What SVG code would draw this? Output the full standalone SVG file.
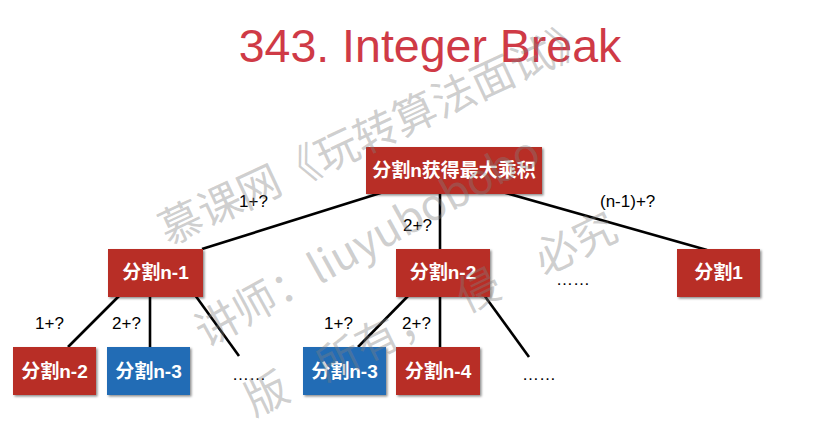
<svg xmlns="http://www.w3.org/2000/svg" width="816" height="421" viewBox="0 0 816 421">
<defs>
<filter id="sh" x="-10%" y="-10%" width="130%" height="140%">
<feDropShadow dx="1.5" dy="1.5" stdDeviation="0.8" flood-color="#000" flood-opacity="0.45"/>
</filter>
</defs>
<style>
.red{fill:#B82E27;filter:url(#sh)}
.blue{fill:#236CB5;filter:url(#sh)}
.nl{font-family:"Liberation Sans","Noto Sans CJK SC",sans-serif;font-weight:bold;font-size:19px;fill:#fff;text-anchor:middle}
.el{font-family:"Liberation Sans",Arial,sans-serif;font-size:17px;fill:#000}
.edge{stroke:#000;stroke-width:2.6;fill:none}
.wm{font-family:"Noto Sans CJK SC",sans-serif;font-size:43px;fill:#808080;fill-opacity:0.38}
</style>
<rect width="816" height="421" fill="#fff"/>
<text x="430" y="62" font-family="Liberation Sans,Arial,sans-serif" font-size="46.5" fill="#CF3A46" text-anchor="middle">343. Integer Break</text>
<g id="connectors">
<line class="edge" x1="390" y1="190" x2="202" y2="249"/>
<line class="edge" x1="440" y1="190" x2="440" y2="249"/>
<line class="edge" x1="495" y1="190" x2="707" y2="250"/>
<line class="edge" x1="120" y1="295" x2="68" y2="347"/>
<line class="edge" x1="150" y1="295" x2="150" y2="347"/>
<line class="edge" x1="195" y1="295" x2="239" y2="356"/>
<line class="edge" x1="409" y1="295" x2="358" y2="347"/>
<line class="edge" x1="440" y1="295" x2="440" y2="347"/>
<line class="edge" x1="484" y1="295" x2="529" y2="357"/>
</g>
<g id="root"><rect class="red" x="366" y="147" width="176" height="47"/><text class="nl" x="454" y="177">分割n获得最大乘积</text></g>
<g id="n1"><rect class="red" x="108" y="249" width="95" height="48"/><text class="nl" x="155.5" y="279">分割n-1</text></g>
<g id="n2"><rect class="red" x="396" y="249" width="94" height="48"/><text class="nl" x="443" y="279">分割n-2</text></g>
<g id="s1"><rect class="red" x="677" y="249" width="83" height="48"/><text class="nl" x="718.5" y="279">分割1</text></g>
<g id="a1"><rect class="red" x="13" y="347" width="83" height="48"/><text class="nl" x="54.5" y="378">分割n-2</text></g>
<g id="a2"><rect class="blue" x="107" y="347" width="83" height="48"/><text class="nl" x="148.5" y="378">分割n-3</text></g>
<g id="b1"><rect class="blue" x="303" y="347" width="83" height="48"/><text class="nl" x="344.5" y="378">分割n-3</text></g>
<g id="b2"><rect class="red" x="396" y="347" width="84" height="48"/><text class="nl" x="438" y="378">分割n-4</text></g>
<g id="labels">
<text class="el" x="239" y="207">1+?</text>
<text class="el" x="403" y="231">2+?</text>
<text class="el" x="600" y="207">(n-1)+?</text>
<text class="el" x="35" y="329">1+?</text>
<text class="el" x="112" y="329">2+?</text>
<text class="el" x="324" y="329">1+?</text>
<text class="el" x="402" y="329">2+?</text>
<text class="el" x="556" y="285">……</text>
<text class="el" x="232" y="380">……</text>
<text class="el" x="522" y="380">……</text>
</g>
<g id="watermark">
<text class="wm" transform="translate(168,246) rotate(-25)">慕课网《玩转算法面试》</text>
<text class="wm" transform="translate(206,348) rotate(-29)">讲师：liuyubobobo</text>
<g transform="translate(254,417) rotate(-26)">
<text class="wm" x="0" y="0">版</text>
<text class="wm" x="80" y="0">所有，</text>
<text class="wm" x="236" y="0">侵</text>
<text class="wm" x="322" y="0">必究</text>
</g>
</g>
</svg>
